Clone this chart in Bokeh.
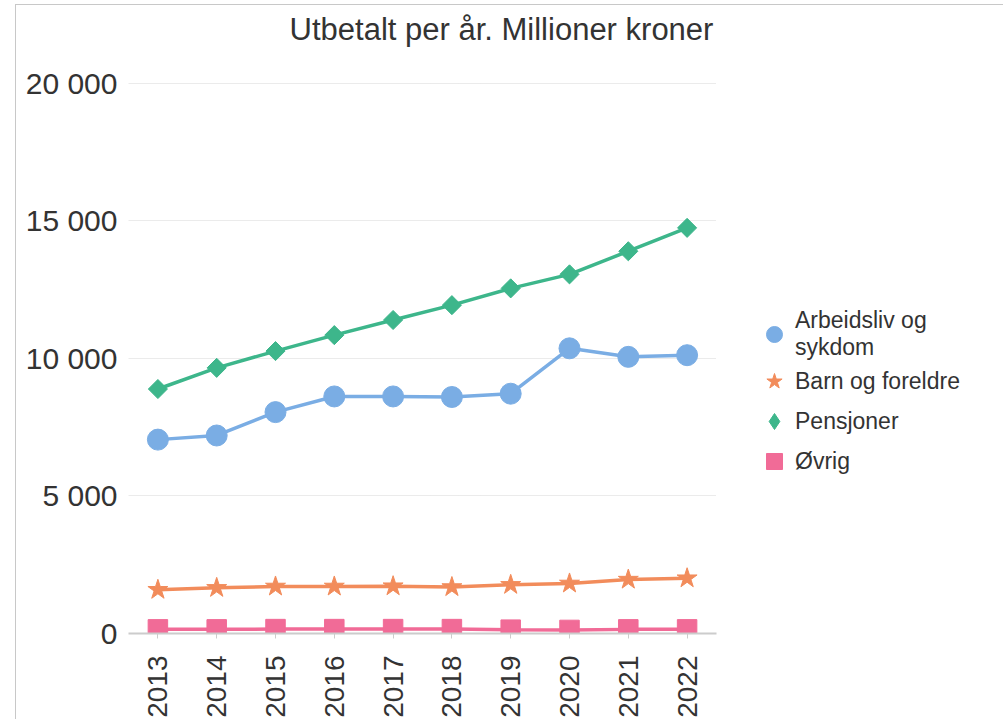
import numpy as np
from bokeh.plotting import figure
from bokeh.models import (FactorRange, Range1d, FixedTicker, CustomJSTickFormatter,
                          Legend, LegendItem, ColumnDataSource, Label)
from bokeh.embed import file_html
from bokeh.resources import INLINE

years = [str(y) for y in range(2013, 2023)]
arbeidsliv = [7050, 7200, 8050, 8620, 8620, 8600, 8720, 10370, 10060, 10120]
barn = [1590, 1660, 1710, 1710, 1720, 1690, 1770, 1820, 1960, 2010]
pensjoner = [8890, 9660, 10270, 10850, 11400, 11940, 12550, 13060, 13900, 14750]
ovrig = [150, 150, 160, 160, 160, 160, 140, 130, 150, 150]
series_names = ["Arbeidsliv og\nsykdom", "Barn og foreldre", "Pensjoner", "Øvrig"]
title_text = "Utbetalt per år. Millioner kroner"
y_ticks = [0, 5000, 10000, 15000, 20000]

FONT = "Liberation Sans"
TEXT = "#333333"
colors = ["#7AADE4", "#F28C5B", "#3DB68B", "#F16B97"]

# frame reaches the top of the canvas; the title sits inside it above the data
p = figure(x_range=FactorRange(*years), y_range=Range1d(0, 22836),
           frame_width=588, frame_height=628, output_backend="svg",
           toolbar_location=None,
           min_border_left=112, min_border_right=281, min_border_top=0,
           min_border_bottom=85)
p.styles = {"border-top": "1px solid #c8c8c8", "border-left": "1px solid #c8c8c8",
            "border-right": "1px solid #c8c8c8", "margin-left": "15px",
            "margin-top": "4px"}
p.outline_line_color = None

p.add_layout(Label(x=373, y=604, x_units="screen", y_units="screen",
                   text=title_text, text_align="center", text_baseline="alphabetic",
                   text_font=FONT, text_font_size="31px", text_color=TEXT))

p.yaxis.ticker = FixedTicker(ticks=y_ticks)
p.yaxis.formatter = CustomJSTickFormatter(
    code="return tick.toFixed(0).replace(/\\B(?=(\\d{3})+(?!\\d))/g, ' ');")
p.yaxis.axis_line_color = None
p.yaxis.major_tick_line_color = None
p.yaxis.minor_tick_line_color = None
p.yaxis.major_label_text_font = FONT
p.yaxis.major_label_text_font_size = "30px"
p.yaxis.major_label_text_color = TEXT
p.yaxis.major_label_standoff = 5

p.xaxis.major_label_orientation = np.pi / 2
p.xaxis.axis_line_color = "#cccccc"
p.xaxis.axis_line_width = 2
p.xaxis.major_tick_line_color = "#cccccc"
p.xaxis.major_tick_out = 5
p.xaxis.major_tick_in = 0
p.xaxis.major_label_text_font = FONT
p.xaxis.major_label_text_font_size = "28px"
p.xaxis.major_label_text_color = TEXT
p.xaxis.major_label_standoff = 17

p.xgrid.grid_line_color = None
p.ygrid.grid_line_color = "#d6d6d6"
p.ygrid.grid_line_dash = "1 1"

src = ColumnDataSource(dict(x=years, a=arbeidsliv, b=barn, c=pensjoner, d=ovrig))

LW = 3.5
p.line("x", "a", source=src, color=colors[0], line_width=LW)
r_a = p.scatter("x", "a", source=src, marker="circle", size=21, color=colors[0])
p.line("x", "b", source=src, color=colors[1], line_width=LW)
r_b = p.scatter("x", "b", source=src, marker="star", size=21, color=colors[1])
p.line("x", "c", source=src, color=colors[2], line_width=LW)
r_c = p.scatter("x", "c", source=src, marker="square", angle=np.pi / 4, size=13.5,
                color=colors[2])
p.line("x", "d", source=src, color=colors[3], line_width=LW)
r_d = p.scatter("x", "d", source=src, marker="square", size=19.5, color=colors[3])

# legend proxy (draws nothing in the plot area: y is NaN)
proxy_src = ColumnDataSource(dict(x=[years[0]], y=[float("nan")]))
r_c_leg = p.scatter("x", "y", source=proxy_src, marker="diamond", color=colors[2])

legend = Legend(items=[LegendItem(label=series_names[0], renderers=[r_a]),
                       LegendItem(label=series_names[1], renderers=[r_b]),
                       LegendItem(label=series_names[2], renderers=[r_c_leg]),
                       LegendItem(label=series_names[3], renderers=[r_d])],
                location=(37, 152))
legend.label_text_font = FONT
legend.label_text_font_size = "23px"
legend.label_text_color = TEXT
legend.glyph_width = 42
legend.glyph_height = 40
legend.spacing = 0
legend.label_standoff = 0
legend.padding = 0
legend.margin = 0
legend.border_line_color = None
legend.background_fill_alpha = 0
p.add_layout(legend, "right")

open("out.html", "w").write(file_html(p, INLINE))
